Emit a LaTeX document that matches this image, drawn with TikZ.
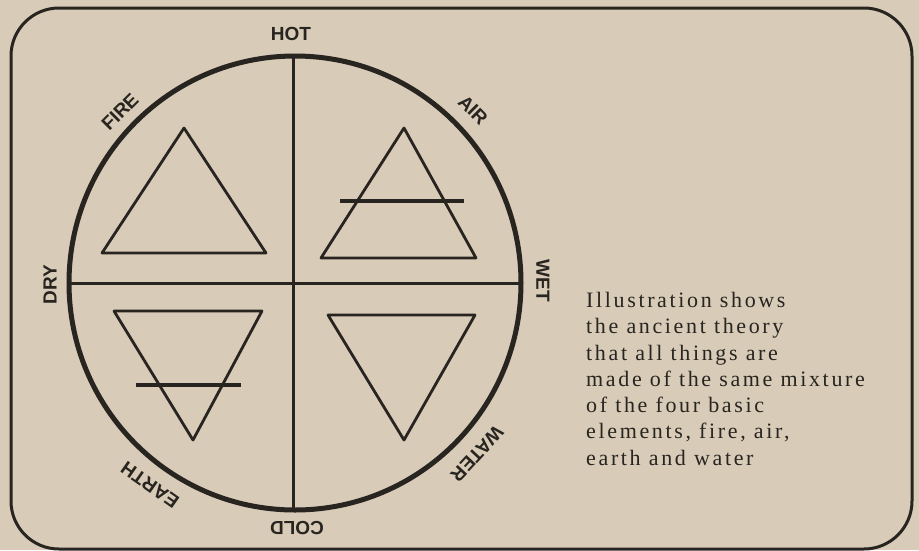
\documentclass[tikz,border=0pt]{standalone}
\usepackage{fontspec}
\setmainfont{Liberation Serif}
\newfontfamily\labelfont{Liberation Sans}
\newfontfamily\captionfont[LetterSpace=12]{Liberation Serif}
\definecolor{paper}{RGB}{216,204,184}
\definecolor{ink}{RGB}{40,36,32}
\begin{document}
\begin{tikzpicture}[x=1pt,y=-1pt,line join=round,
  lab/.style={font=\labelfont\bfseries\fontsize{19}{19}\selectfont,text=ink,inner sep=0pt},
  tri/.style={draw=ink,line width=2.8pt},
  barline/.style={draw=ink,line width=4.2pt},
  axis/.style={draw=ink,line width=3pt}]
\useasboundingbox (0,0) rectangle (919,550);
\fill[paper] (0,0) rectangle (919,550);
\draw[ink,line width=3pt,rounded corners=48pt] (11,8) rectangle (912,549);
% circle
\coordinate (c) at (295,283);
\coordinate (top) at (293,56);
\coordinate (bottom) at (293,510);
\coordinate (left) at (69,283);
\coordinate (right) at (521,283);
\draw[axis] (top) -- (bottom);
\draw[axis] (left) -- (right);
\draw[ink,line width=5pt] (c) ellipse [x radius=226pt, y radius=227pt];
% fire
\draw[tri] (184,128) -- (266,253) -- (102,253) -- cycle;
% air
\draw[tri] (404,128) -- (476,258) -- (321,258) -- cycle;
\draw[barline] (340,201) -- (464,201);
% earth
\draw[tri] (114,311) -- (262,311) -- (193,440) -- cycle;
\draw[barline] (136,385) -- (241,385);
% water
\draw[tri] (328,315) -- (475,315) -- (404,440) -- cycle;
% labels
\node[lab] (hot) at (291,34) {HOT};
\node[lab,rotate=45] (fire) at (120,112) {FIRE};
\node[lab,rotate=-45] (air) at (473,110) {AIR};
\node[lab,rotate=90] (dry) at (50,285) {DRY};
\node[lab,rotate=-90] (wet) at (543,281) {WET};
\node[lab,rotate=145] (earth) at (150,485) {EARTH};
\node[lab,rotate=-133] (water) at (477,454) {WATER};
\node[lab,rotate=180] (cold) at (297,528) {COLD};
% caption
\node[anchor=north west,inner sep=0pt,align=left,text=ink,
  font=\captionfont\fontsize{22}{26.3}\selectfont] (caption) at (586,292)
  {Illustration shows\\the ancient theory\\that all things are\\made of the same mixture\\of the four basic\\elements, fire, air,\\earth and water};
\end{tikzpicture}
\end{document}
